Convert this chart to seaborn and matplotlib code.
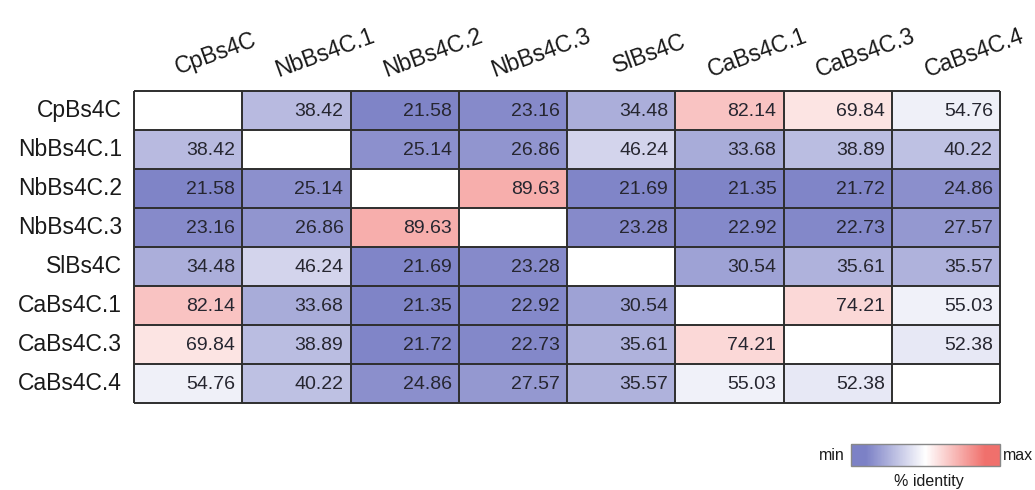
import numpy as np
import pandas as pd
import matplotlib
matplotlib.use("Agg")
import matplotlib.pyplot as plt
from matplotlib.colors import LinearSegmentedColormap, TwoSlopeNorm
import seaborn as sns

# Pairwise % identity between Bs4C homologues (diagonal left empty)
genes = ["CpBs4C", "NbBs4C.1", "NbBs4C.2", "NbBs4C.3",
         "SlBs4C", "CaBs4C.1", "CaBs4C.3", "CaBs4C.4"]
na = np.nan
row_CpBs4C = [na, 38.42, 21.58, 23.16, 34.48, 82.14, 69.84, 54.76]
row_NbBs4C_1 = [38.42, na, 25.14, 26.86, 46.24, 33.68, 38.89, 40.22]
row_NbBs4C_2 = [21.58, 25.14, na, 89.63, 21.69, 21.35, 21.72, 24.86]
row_NbBs4C_3 = [23.16, 26.86, 89.63, na, 23.28, 22.92, 22.73, 27.57]
row_SlBs4C = [34.48, 46.24, 21.69, 23.28, na, 30.54, 35.61, 35.57]
row_CaBs4C_1 = [82.14, 33.68, 21.35, 22.92, 30.54, na, 74.21, 55.03]
row_CaBs4C_3 = [69.84, 38.89, 21.72, 22.73, 35.61, 74.21, na, 52.38]
row_CaBs4C_4 = [54.76, 40.22, 24.86, 27.57, 35.57, 55.03, 52.38, na]

identity = pd.DataFrame(
    [row_CpBs4C, row_NbBs4C_1, row_NbBs4C_2, row_NbBs4C_3,
     row_SlBs4C, row_CaBs4C_1, row_CaBs4C_3, row_CaBs4C_4],
    index=genes, columns=genes,
)

sns.set_theme(style="white")
plt.rcParams["font.family"] = ["Liberation Sans", "DejaVu Sans"]

W, H = 1035, 490
fig = plt.figure(figsize=(W / 100, H / 100), dpi=100)
ax = fig.add_axes([134 / W, 1 - 403 / H, 866 / W, 312 / H])

blue = "#7c81c6"
red = "#f0706c"
cmap = LinearSegmentedColormap.from_list(
    "identity",
    [(0.0, blue), (0.1, blue), (0.5, "#ffffff"), (0.9, red), (1.0, red)],
)
norm = TwoSlopeNorm(vmin=10.5, vcenter=59.5, vmax=127)

sns.heatmap(identity, ax=ax, cmap=cmap, norm=norm, cbar=False,
            linewidths=0, xticklabels=False, yticklabels=genes)

# cell borders
n = len(genes)
ax.hlines(np.arange(n + 1), 0, n, color="#2e2e2e", lw=1.4, clip_on=False)
ax.vlines(np.arange(n + 1), 0, n, color="#2e2e2e", lw=1.4, clip_on=False)

# right-aligned values
for i in range(n):
    for j in range(n):
        v = identity.iat[i, j]
        if np.isnan(v):
            continue
        ax.text(j + 1 - 0.065, i + 0.52, f"{v:.2f}", ha="right", va="center",
                fontsize=14, color="#262630")

# row labels
ax.set_yticklabels(genes, rotation=0, fontsize=16.5, color="#1a1a1a")
ax.tick_params(axis="y", length=0, pad=8.6)
ax.set_xlabel("")
ax.set_ylabel("")

# slanted column labels above the grid
for j, g in enumerate(genes):
    ax.text(j + 0.5 + 0.26, -0.96, g, rotation=20, rotation_mode="anchor",
            ha="center", va="center", fontsize=16.5, color="#1a1a1a",
            clip_on=False)

# colour key
cax = fig.add_axes([851 / W, 1 - 466 / H, 149 / W, 22 / H])
cb = fig.colorbar(ax.collections[0], cax=cax, orientation="horizontal")
cb.set_ticks([])
cb.outline.set_edgecolor("#888888")
cb.outline.set_linewidth(1.0)

fig.text(845 / W, 1 - 455 / H, "min", ha="right", va="center",
         fontsize=11.5, color="#1a1a1a")
fig.text(1003 / W, 1 - 455 / H, "max", ha="left", va="center",
         fontsize=11.5, color="#1a1a1a")
fig.text(929 / W, 1 - 481 / H, "% identity", ha="center", va="center",
         fontsize=11.5, color="#1a1a1a")

fig.savefig("out.png", dpi=100, facecolor="white")
